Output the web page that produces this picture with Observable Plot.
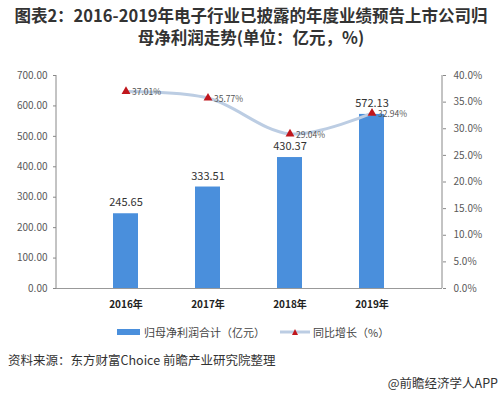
<!DOCTYPE html>
<html><head><meta charset="utf-8">
<script src="https://cdn.jsdelivr.net/npm/d3@7"></script>
<script src="https://cdn.jsdelivr.net/npm/@observablehq/plot@0.6"></script>
<style>
body{margin:0;background:#fff;font-family:"Noto Sans CJK SC","Noto Sans",sans-serif;}
#wrap{width:502px;height:393px;position:relative;overflow:hidden;}
#title{position:absolute;left:0;top:4px;width:502px;text-align:center;font-weight:bold;font-size:16.5px;line-height:22px;color:#333;}
#chart{position:absolute;left:0;top:55px;}
.legend{position:absolute;top:324px;font-size:11px;color:#444;display:flex;align-items:center;}
#cap{position:absolute;left:8px;top:350px;font-size:12.5px;color:#333;}
#credit{position:absolute;right:4px;top:373px;font-size:12.5px;color:#333;}
</style></head>
<body><div id="wrap">
<div id="title">图表2：2016-2019年电子行业已披露的年度业绩预告上市公司归<br>母净利润走势(单位：亿元，%)</div>
<div id="chart"></div>
<div class="legend" style="left:117px"><span style="display:inline-block;width:23px;height:6px;background:#4a8fdc;margin-right:4px"></span>归母净利润合计（亿元）</div>
<div class="legend" style="left:280px"><svg width="30" height="10" style="margin-right:3px"><line x1="0" y1="5" x2="30" y2="5" stroke="#bccde3" stroke-width="3"/><path d="M15,2 L18,8 L12,8 Z" fill="#c0161c"/></svg>同比增长（%）</div>
<div id="cap">资料来源：东方财富Choice 前瞻产业研究院整理</div>
<div id="credit">@前瞻经济学人APP</div>
</div>
<script>
const years = ["2016年","2017年","2018年","2019年"];
const profit = [245.65, 333.51, 430.37, 572.13];
const growth = [37.01, 35.77, 29.04, 32.94];
const leftTicks = [0,100,200,300,400,500,600,700];
const rightTicks = [0,5,10,15,20,25,30,35,40];

const k = 700/40;
const data = years.map((y,i)=>({year:y, profit:profit[i], growth:growth[i], g:growth[i]*k}));

const chart = Plot.plot({
  width: 502, height: 263,
  marginLeft: 56, marginRight: 60, marginTop: 20, marginBottom: 30,
  x: {domain: years, padding: 0.69, label: null},
  y: {domain: [0,700], label: null},
  style: {fontFamily: '"Noto Sans CJK SC","Noto Sans",sans-serif', color:"#595959"},
  marks: [
    Plot.axisY({ticks: leftTicks, tickFormat: d=>d.toFixed(2), tickSize: 3, fontSize: 10, fill:"#595959", stroke:"#888", label:null}),
    Plot.axisY({anchor:"right", ticks: rightTicks.map(t=>t*k), tickFormat: d=>(d/k).toFixed(1)+"%", tickSize: 3, tickPadding: 8, fontSize: 10, fill:"#595959", stroke:"#888", label:null}),
    Plot.axisX({tickSize: 0, tickPadding: 12, fontSize: 10, fontWeight:"bold", fill:"#222", label:null}),
    Plot.barY(data, {x:"year", y:"profit", fill:"#4a8fdc"}),
    Plot.ruleY([0], {stroke:"#999"}),
    Plot.text(data, {x:"year", y:"profit", text: d=>d.profit.toFixed(2), dy:-11, fontSize:11, fill:"#333"}),
    Plot.line(data, {x:"year", y:"g", stroke:"#bccde3", strokeWidth:3, curve:"catmull-rom"}),
    Plot.dot(data, {x:"year", y:"g", symbol:"triangle", r:3.3, fill:"#c0161c", stroke:"none"}),
    Plot.text(data, {x:"year", y:"g", text: d=>d.growth.toFixed(2)+"%", dx:6, dy:1, textAnchor:"start", fontSize:8.5, fill:"#555"})
  ]
});
const svg = d3.select(chart);
svg.append("line").attr("x1",56).attr("x2",56).attr("y1",20).attr("y2",233).attr("stroke","#888");
svg.append("line").attr("x1",442).attr("x2",442).attr("y1",20).attr("y2",233).attr("stroke","#888");
document.getElementById("chart").appendChild(chart);
</script>
</body></html>
